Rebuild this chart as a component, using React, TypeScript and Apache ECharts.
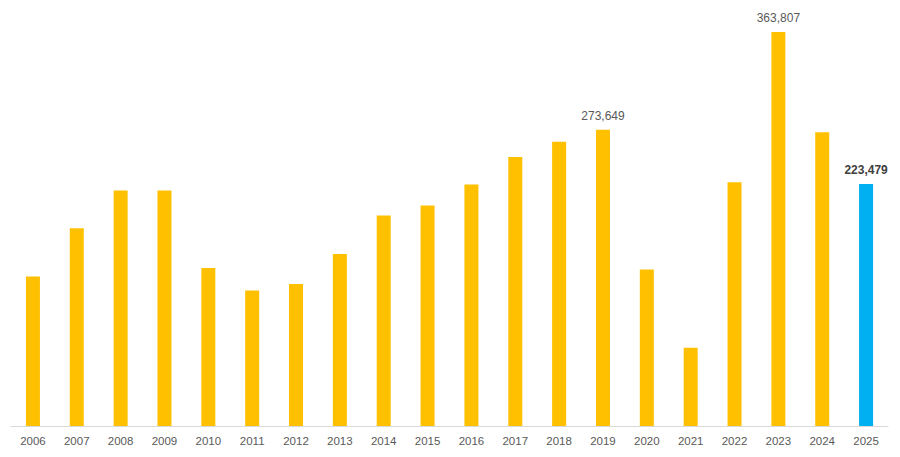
import React, { useEffect, useRef } from 'react';
import * as echarts from 'echarts';

const years = [
  '2006', '2007', '2008', '2009', '2010', '2011', '2012', '2013', '2014', '2015',
  '2016', '2017', '2018', '2019', '2020', '2021', '2022', '2023', '2024', '2025'
];

const values = [
  138100, 182500, 217400, 217400, 145900, 125200, 131100, 158800, 194300, 203500,
  222900, 248500, 262400, 273649, 144600, 72200, 225100, 363807, 271300, 223479
];

// years whose value is written above the bar
const labelledYears = ['2019', '2023', '2025'];
const highlightYear = '2025';

const YELLOW = '#FFC000';
const BLUE = '#00B0F0';

const App = () => {
  const chartRef = useRef<HTMLDivElement | null>(null);

  useEffect(() => {
    if (!chartRef.current) return;
    document.body.style.margin = '0';

    const chart = echarts.init(chartRef.current, null, { renderer: 'svg' });

    const option = {
      animation: false,
      grid: { left: 11, right: 12, top: 32, bottom: 31 },
      xAxis: {
        type: 'category',
        data: years,
        axisLine: { lineStyle: { color: '#d9d9d9', width: 1 } },
        axisTick: { show: false },
        axisLabel: {
          color: '#595959',
          fontSize: 11.5,
          fontFamily: 'Liberation Sans',
          margin: 9
        }
      },
      yAxis: {
        type: 'value',
        min: 0,
        max: 'dataMax',
        show: false,
        splitLine: { show: false }
      },
      series: [
        {
          type: 'bar',
          barWidth: 14,
          data: values.map((v, i) => {
            const year = years[i];
            const isHighlight = year === highlightYear;
            return {
              value: v,
              itemStyle: { color: isHighlight ? BLUE : YELLOW },
              label: {
                show: labelledYears.includes(year),
                position: 'top',
                distance: 8,
                color: isHighlight ? '#404040' : '#595959',
                fontWeight: isHighlight ? 'bold' : 'normal',
                fontSize: 12,
                fontFamily: 'Liberation Sans',
                formatter: (p: any) => Number(p.value).toLocaleString('en-US')
              }
            };
          })
        }
      ]
    };

    chart.setOption(option);

    return () => {
      chart.dispose();
    };
  }, []);

  return <div ref={chartRef} style={{ width: '900px', height: '457px' }} />;
};

export default App;
